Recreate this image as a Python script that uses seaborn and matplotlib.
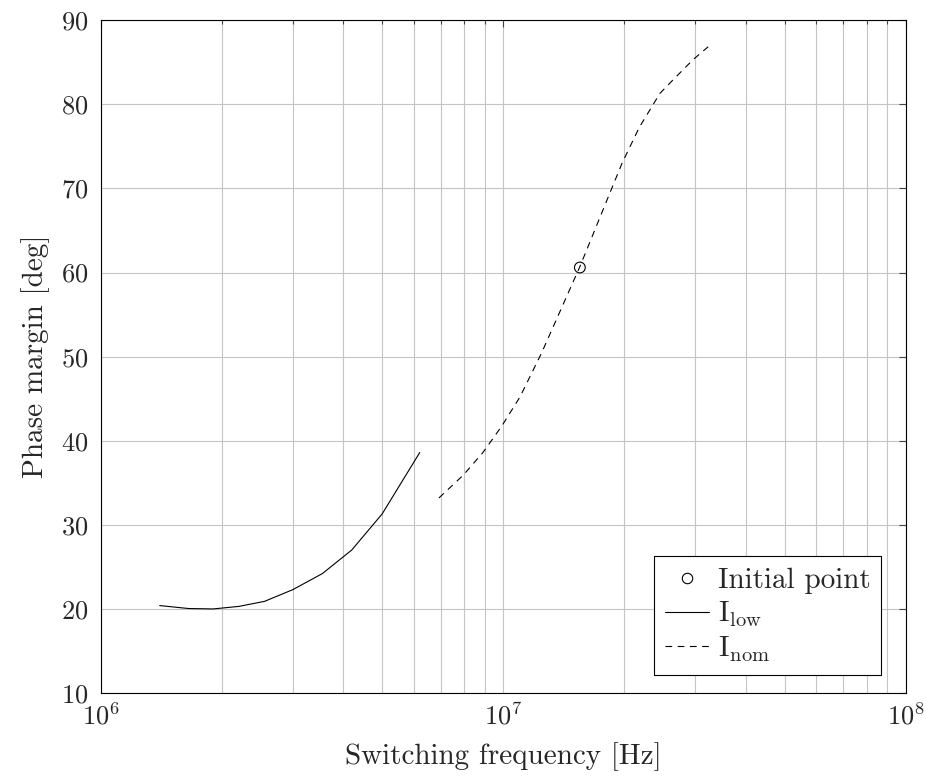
import numpy as np
import pandas as pd
import matplotlib.pyplot as plt
from matplotlib.lines import Line2D
from matplotlib.ticker import LogLocator, NullFormatter
import seaborn as sns

# phase margin vs switching frequency
f_low = [1.40e6, 1.65e6, 1.90e6, 2.20e6, 2.55e6, 3.00e6, 3.55e6, 4.20e6, 5.00e6, 6.20e6]
pm_low = [20.4, 20.05, 20.0, 20.3, 20.9, 22.3, 24.2, 27.0, 31.3, 38.6]

f_nom = [6.92e6, 7.95e6, 8.9e6, 9.9e6, 11.0e6, 12.44e6, 15.5e6, 17.4e6,
         19.73e6, 21.8e6, 24.5e6, 26.4e6, 29.6e6, 32.3e6]
pm_nom = [33.2, 35.9, 38.6, 41.7, 45.2, 50.4, 60.7, 66.6,
          73.0, 77.3, 81.3, 82.9, 85.3, 86.85]

f_init = [15.5e6]
pm_init = [60.6]

labels = ['Initial point', r'$\mathrm{I_{low}}$', r'$\mathrm{I_{nom}}$']

df = pd.concat([
    pd.DataFrame({'f': f_low, 'pm': pm_low, 'curve': 'low'}),
    pd.DataFrame({'f': f_nom, 'pm': pm_nom, 'curve': 'nom'}),
])

sns.set_style('white')
plt.rcParams['font.family'] = ['cmr10', 'DejaVu Serif']
plt.rcParams['mathtext.fontset'] = 'cm'
plt.rcParams['axes.formatter.use_mathtext'] = True
plt.rcParams['font.size'] = 15

fig = plt.figure(figsize=(9.26, 7.8), dpi=100)
ax = fig.add_axes([0.109, 0.1115, 0.869, 0.8625])

sns.lineplot(data=df, x='f', y='pm', hue='curve', style='curve',
             palette={'low': 'black', 'nom': 'black'},
             dashes={'low': '', 'nom': (6, 5)}, linewidth=0.8,
             legend=False, ax=ax)
sns.scatterplot(x=f_init, y=pm_init, marker='o', s=60, facecolor='none',
                edgecolor='black', linewidth=0.8, ax=ax, zorder=5)

ax.set_xscale('log')
ax.set_xlim(1e6, 1e8)
ax.set_ylim(10, 90)
ax.set_yticks(range(10, 91, 10))
ax.xaxis.set_minor_locator(LogLocator(base=10, subs=np.arange(2, 10), numticks=20))
ax.xaxis.set_minor_formatter(NullFormatter())

ax.grid(True, which='major', color='#c4c4c4', linewidth=0.8)
ax.grid(True, which='minor', axis='x', color='#c4c4c4', linewidth=0.8)
ax.set_axisbelow(True)
for s in ax.spines.values():
    s.set_color('black')
    s.set_linewidth(0.8)

ax.tick_params(which='both', direction='in', top=True, right=True,
               color='#444444', width=0.8, labelsize=19)
ax.tick_params(which='major', length=5)
ax.tick_params(which='minor', length=3)
ax.tick_params(axis='x', pad=7)
ax.tick_params(axis='y', pad=9)

ax.set_xlabel('Switching frequency [Hz]', fontsize=21, labelpad=9)
ax.set_ylabel('Phase margin [deg]', fontsize=21, labelpad=8)

handles = [
    Line2D([], [], marker='o', linestyle='none', markerfacecolor='none',
           markeredgecolor='black', markersize=7.5, markeredgewidth=0.8),
    Line2D([], [], color='black', linewidth=0.8),
    Line2D([], [], color='black', linewidth=0.8, dashes=(6, 5)),
]
leg = ax.legend(handles, labels, loc='lower right', bbox_to_anchor=(0.970, 0.027),
                fontsize=21, frameon=True, fancybox=False, framealpha=1,
                edgecolor='black', handlelength=1.5, handletextpad=0.3,
                borderpad=0.38, labelspacing=0.2, borderaxespad=0)
leg.get_frame().set_linewidth(0.8)

fig.savefig('out.png', dpi=100)
